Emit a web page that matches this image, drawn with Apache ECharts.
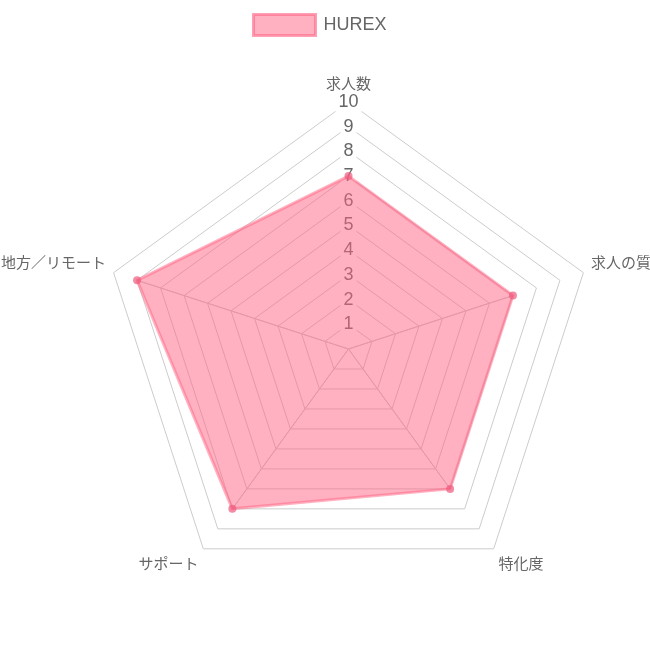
<!DOCTYPE html>
<html>
<head>
<meta charset="utf-8">
<script src="https://cdn.jsdelivr.net/npm/echarts@6/dist/echarts.min.js"></script>
<style>
    html, body { margin: 0; padding: 0; background: #fff; }
    #chart { width: 650px; height: 650px; }
</style>
</head>
<body>
<div id="chart"></div>
<script>
// レーダーの軸（時計回り）
var categories = ['求人数', '求人の質', '特化度', 'サポート', '地方／リモート'];
// HUREX の評価
var seriesName = 'HUREX';
var seriesValues = [7, 7, 7, 8, 9];
// 目盛り 0-10
var tickLabels = ['', '1', '2', '3', '4', '5', '6', '7', '8', '9', '10'];
var maxValue = 10;

var font = 'Helvetica, Arial, "Liberation Sans", "Noto Sans CJK JP", sans-serif';

var myChart = echarts.init(document.getElementById('chart'));

// echarts は反時計回りなので、先頭以外を逆順にする
function clockwise(arr) {
    return [arr[0]].concat(arr.slice(1).reverse());
}
var cwCategories = clockwise(categories);
var cwValues = clockwise(seriesValues);

var indicator = cwCategories.map(function (name, i) {
    var item = { name: name, min: 0, max: maxValue };
    // 目盛りは一番上の軸だけ
    if (i > 0) {
        item.axisLabel = { show: false };
    }
    return item;
});

// 中心からデータ点までの線（塗りの下に見える放射線）
var spokes = [];
cwValues.forEach(function (v, i) {
    if (i === 0) return; // 上の軸は目盛りと重なるので省略
    var value = cwValues.map(function () { return 0; });
    value[i] = v;
    spokes.push({ value: value });
});

var option = {
    animation: false,
    legend: {
        data: [seriesName],
        top: 13,
        left: 252,
        padding: 0,
        icon: 'rect',
        itemWidth: 62,
        itemHeight: 21,
        itemStyle: {
            color: 'rgba(255,99,132,0.5)',
            borderColor: 'rgba(255,99,132,0.6)',
            borderWidth: 3
        },
        textStyle: {
            color: '#666',
            fontSize: 18,
            fontFamily: font,
            padding: [0, 0, 0, 3]
        }
    },
    radar: {
        center: [348.5, 349],
        radius: 247,
        startAngle: 90,
        shape: 'polygon',
        splitNumber: 10,
        nameGap: 8,
        indicator: indicator,
        axisName: {
            color: '#666',
            fontSize: 15,
            fontFamily: font,
            formatter: function (name) {
                var i = categories.indexOf(name);
                if (i === 1 || i === 4) return '{side|' + name + '}';
                if (i === 2 || i === 3) return '{bottom|' + name + '}';
                return name;
            },
            rich: {
                side: { color: '#666', fontSize: 15, fontFamily: font, padding: [0, 0, 12, 0] },
                bottom: { color: '#666', fontSize: 15, fontFamily: font, padding: [20, 0, 0, 0] }
            }
        },
        splitLine: {
            lineStyle: { color: '#cccccc', width: 1 }
        },
        splitArea: { show: false },
        axisLine: { show: false },
        axisTick: { show: false },
        axisLabel: {
            show: true,
            margin: 0,
            align: 'center',
            verticalAlign: 'middle',
            color: '#666',
            fontSize: 18,
            fontFamily: font,
            backgroundColor: '#fff',
            padding: [1, 3],
            formatter: function (v) {
                return tickLabels[Math.round(v)] || '';
            }
        }
    },
    series: [{
        name: 'spokes',
        type: 'radar',
        symbol: 'none',
        silent: true,
        data: spokes,
        lineStyle: {
            color: '#cccccc',
            width: 1
        }
    }, {
        name: seriesName,
        type: 'radar',
        symbol: 'circle',
        symbolSize: 8,
        data: [{ name: seriesName, value: cwValues }],
        itemStyle: {
            color: 'rgba(240,90,125,0.7)'
        },
        lineStyle: {
            color: 'rgba(255,99,132,0.5)',
            width: 3
        },
        areaStyle: {
            color: 'rgba(255,99,132,0.5)',
            opacity: 1
        }
    }]
};

myChart.setOption(option);
</script>
</body>
</html>
